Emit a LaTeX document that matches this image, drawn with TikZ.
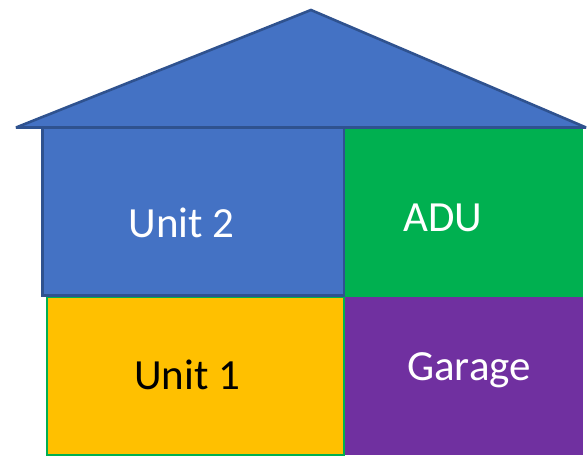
\documentclass[tikz,border=0pt]{standalone}
\usepackage{fontspec}
\setmainfont{Carlito}
\definecolor{roofblue}{HTML}{4472C4}
\definecolor{edgeblue}{HTML}{2F528F}
\definecolor{adugreen}{HTML}{00B050}
\definecolor{unitgold}{HTML}{FFC000}
\definecolor{garagepurple}{HTML}{7030A0}
\begin{document}
\begin{tikzpicture}[x=1pt,y=-1pt,
  roomlabel/.style={font=\fontsize{43}{48}\selectfont, anchor=base, inner sep=0pt},
  blueedge/.style={draw=edgeblue, line width=2.6pt}]
  \useasboundingbox (0,0) rectangle (588,457);
  % rooms on the right
  \fill[adugreen] (344,128) rectangle (583,297);
  \fill[garagepurple] (344,297) rectangle (583,455);
  % ground floor unit
  \filldraw[fill=unitgold, draw=adugreen, line width=2pt] (47,297) rectangle (344,455);
  % upper unit
  \filldraw[fill=roofblue, blueedge] (42.5,128) rectangle (344,295.5);
  % roof
  \filldraw[fill=roofblue, blueedge, line join=miter, miter limit=4]
    (16,127.5) -- (311,10) -- (586,127.5) -- cycle;
  % labels
  \node[roomlabel, text=white] (unit2) at (181.5,237) {Unit 2};
  \node[roomlabel, text=white] (adu) at (443,231) {ADU};
  \node[roomlabel, text=black] (unit1) at (187,389) {Unit 1};
  \node[roomlabel, text=white] (garage) at (469,380) {Garage};
\end{tikzpicture}
\end{document}
